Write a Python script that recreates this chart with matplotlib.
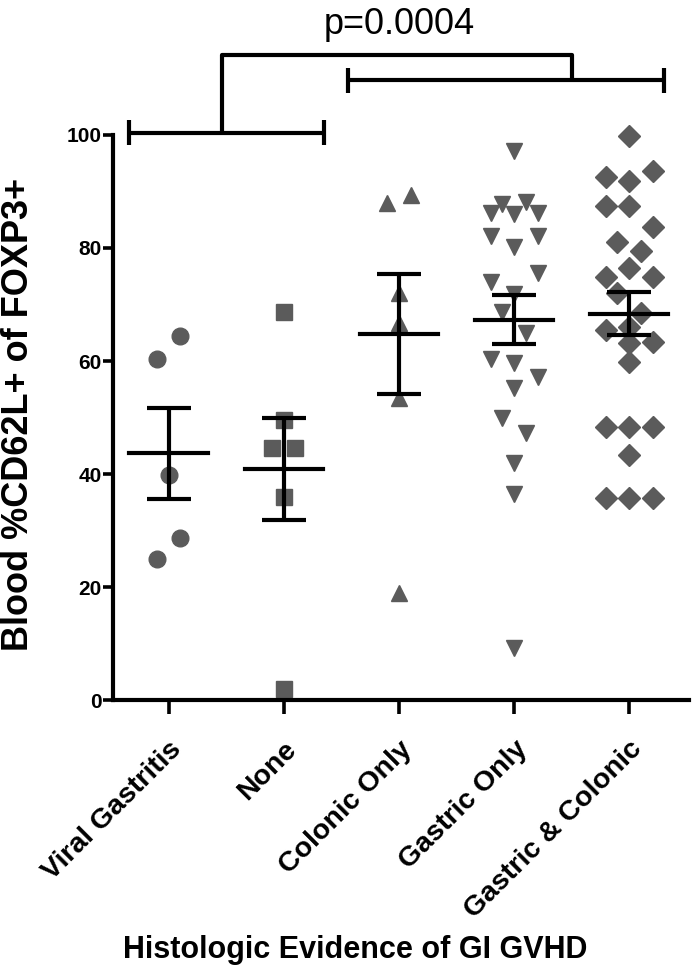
import numpy as np
import matplotlib
matplotlib.use("Agg")
import matplotlib.pyplot as plt

plt.rcParams['font.family'] = ['Liberation Sans', 'DejaVu Sans']

# values (listed in the order they sit left->right in a row)
categories = ["Viral Gastritis", "None", "Colonic Only", "Gastric Only", "Gastric & Colonic"]
viral = [60.4, 64.4, 39.8, 25.0, 28.7]
none = [68.7, 49.6, 44.6, 44.6, 36.0, 1.9]
colonic = [88.0, 89.4, 72.0, 66.7, 53.5, 19.0]
gastric = [97.2, 87.8, 88.2, 86.2, 86.1, 86.2, 82.1, 80.2, 82.1, 74.0, 71.9,
           75.5, 68.7, 65.0, 60.3, 59.6, 57.1, 55.3, 50.0, 47.2, 42.0, 36.5, 9.3]
gastric_colonic = [99.9, 92.6, 91.9, 93.7, 87.4, 87.4, 83.8, 81.0, 79.5, 74.9,
                   76.4, 74.9, 72.0, 68.5, 65.5, 66.1, 63.1, 63.4, 59.9,
                   48.4, 48.4, 48.4, 43.4, 35.7, 35.7, 35.7]
groups = [viral, none, colonic, gastric, gastric_colonic]
yticks = [0, 20, 40, 60, 80, 100]
p_text = "p=0.0004"

markers = ["o", "s", "^", "v", "D"]
msizes = [12, 12, 12, 12, 11]
grey = "#5b5b5b"


def column_offsets(vals, window=4.2, step=0.204):
    # group points of similar value into rows (max 3 per row), centre each row
    order = sorted(range(len(vals)), key=lambda i: -vals[i])
    rows = []
    cur = [order[0]]
    for i in order[1:]:
        if vals[cur[0]] - vals[i] < window:
            cur.append(i)
        else:
            rows.append(cur)
            cur = [i]
    rows.append(cur)
    offs = np.zeros(len(vals))
    for r in rows:
        chunks = []
        rest = len(r) % 3
        if rest:
            chunks.append(r[:rest])
        for k in range(rest, len(r), 3):
            chunks.append(r[k:k + 3])
        for ch in chunks:
            ch = sorted(ch)
            m = len(ch)
            for j, i in enumerate(ch):
                offs[i] = (j - (m - 1) / 2) * step
    return offs


fig = plt.figure(figsize=(6.96, 9.71), dpi=100)
ax = fig.add_axes([0.162, 0.279, 0.828, 0.582])

for k, vals in enumerate(groups):
    x0 = k + 1
    xs = x0 + column_offsets(vals)
    ax.plot(xs, vals, linestyle="none", marker=markers[k], ms=msizes[k],
            color=grey, mec=grey, clip_on=False, zorder=2)
    m = np.mean(vals)
    sem = np.std(vals, ddof=1) / np.sqrt(len(vals))
    ax.plot([x0 - 0.34, x0 + 0.34], [m, m], color="black", lw=3, zorder=3)
    ax.errorbar([x0], [m], yerr=[sem], color="black", lw=3, capsize=16,
                capthick=3, zorder=3)

ax.set_xlim(0.515, 5.52)
ax.set_ylim(0, 100)
ax.set_xticks(range(1, 6))
ax.set_xticklabels(categories, rotation=45, ha="right", va="top",
                   rotation_mode="anchor", fontsize=20.5, fontweight="bold")
ax.set_yticks(yticks)
ax.set_yticklabels([str(t) for t in yticks], fontsize=15, fontweight="bold")
ax.tick_params(axis="y", length=7, width=2.6, pad=1)
ax.tick_params(axis="x", length=10, width=2.6, pad=16)
for s in ["top", "right"]:
    ax.spines[s].set_visible(False)
for s in ["left", "bottom"]:
    ax.spines[s].set_linewidth(3)
ax.set_ylabel("Blood %CD62L+ of FOXP3+", fontsize=26, fontweight="bold")
ax.yaxis.set_label_coords(-0.134, 0.505)
ax.set_xlabel("Histologic Evidence of GI GVHD", fontsize=22, fontweight="bold")
ax.xaxis.set_label_coords(0.42, -0.415)

# significance brackets
kw = dict(color="black", lw=3, clip_on=False, solid_capstyle="butt")
cap = 2.2
ax.plot([0.66, 2.35], [100.4, 100.4], **kw)
for xx in [0.66, 2.35]:
    ax.plot([xx, xx], [100.4 - cap, 100.4 + cap], **kw)
ax.plot([2.56, 5.30], [109.7, 109.7], **kw)
for xx in [2.56, 5.30]:
    ax.plot([xx, xx], [109.7 - cap, 109.7 + cap], **kw)
ax.plot([1.46, 1.46, 4.50, 4.50], [100.4, 114.2, 114.2, 109.7], **kw)
ax.text(3.0, 119.5, p_text, ha="center", va="center", fontsize=26)

fig.savefig("out.png", dpi=100)
